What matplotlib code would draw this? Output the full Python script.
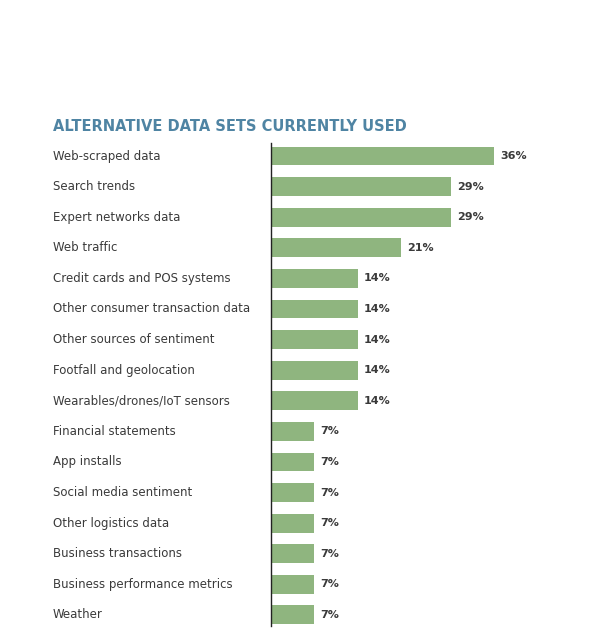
import matplotlib.pyplot as plt
from matplotlib.transforms import blended_transform_factory

# Alternative data sets survey
categories = [
    "Web-scraped data", "Search trends", "Expert networks data", "Web traffic",
    "Credit cards and POS systems", "Other consumer transaction data",
    "Other sources of sentiment", "Footfall and geolocation",
    "Wearables/drones/IoT sensors", "Financial statements", "App installs",
    "Social media sentiment", "Other logistics data", "Business transactions",
    "Business performance metrics", "Weather",
]
values = [36, 29, 29, 21, 14, 14, 14, 14, 14, 7, 7, 7, 7, 7, 7, 7]
title = "ALTERNATIVE DATA SETS CURRENTLY USED"

BAR_COLOR = "#8fb57f"
TITLE_COLOR = "#4f84a3"
TEXT_COLOR = "#3a3a3a"

fig = plt.figure(figsize=(6, 6.33), dpi=100)
ax = fig.add_axes([271 / 600, 1 - 626 / 633, (560 - 271) / 600, (626 - 143) / 633])

ypos = list(range(len(categories)))
ax.barh(ypos, values, height=0.62, color=BAR_COLOR)
ax.set_xlim(0, (560 - 271) / 6.19)
ax.set_ylim(15.36, -0.425)

for s in ["top", "right", "bottom"]:
    ax.spines[s].set_visible(False)
ax.spines["left"].set_color("#222222")
ax.spines["left"].set_linewidth(1.0)
ax.set_xticks([])
ax.set_yticks([])

tr = blended_transform_factory(fig.transFigure, ax.transData)
for y, (cat, v) in enumerate(zip(categories, values)):
    ax.text(53 / 600, y, cat, transform=tr, ha="left", va="center",
            fontsize=8.5, color=TEXT_COLOR)
    ax.text(v + 1.0, y, f"{v}%", ha="left", va="center",
            fontsize=8, fontweight="bold", color=TEXT_COLOR)

fig.text(53 / 600, 1 - 126 / 633, title, ha="left", va="center",
         fontsize=10.5, fontweight="bold", color=TITLE_COLOR)

fig.savefig("out.png", dpi=100)
